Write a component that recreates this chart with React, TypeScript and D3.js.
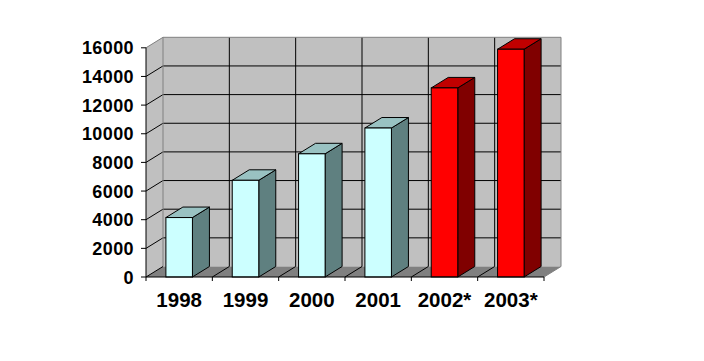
import React from "react";
import * as d3 from "d3";

const categories = ["1998", "1999", "2000", "2001", "2002*", "2003*"];
const values = [4150, 6750, 8600, 10400, 13200, 15900];
const forecast = [false, false, false, false, true, true];
const yTicks = [0, 2000, 4000, 6000, 8000, 10000, 12000, 14000, 16000];

const W = 704;
const H = 361;
const DX = 17;
const DY = -10.5;

export default function App() {
  const x0 = 146;
  const x1 = 544;
  const yBottom = 277;
  const yTop = 47.8;

  const slot = d3.scaleBand<string>().domain(categories).range([x0, x1]).paddingInner(0).paddingOuter(0);
  const bar = d3.scaleBand<string>().domain(categories).range([x0, x1]).paddingInner(0.6).paddingOuter(0.3);
  const y = d3.scaleLinear().domain([0, 16000]).range([yBottom, yTop]);

  const step = slot.step();
  const bw = bar.bandwidth();

  const cyan = { front: "#CCFFFF", top: "#99C2C2", side: "#5F8080" };
  const red = { front: "#FF0000", top: "#C00000", side: "#800000" };

  const pts = (arr: number[][]) => arr.map((p) => p.join(",")).join(" ");

  return (
    <svg width={W} height={H} style={{ position: "absolute", left: 0, top: 0, background: "#fff" }}>
      {/* left side wall */}
      <polygon
        points={pts([[x0, yTop], [x0 + DX, yTop + DY], [x0 + DX, yBottom + DY], [x0, yBottom]])}
        fill="#C0C0C0"
        stroke="none"
      />
      {/* back wall */}
      <rect x={x0 + DX} y={yTop + DY} width={x1 - x0} height={yBottom - yTop} fill="#C0C0C0" />
      {/* floor */}
      <polygon
        points={pts([[x0, yBottom], [x0 + DX, yBottom + DY], [x1 + DX, yBottom + DY], [x1, yBottom]])}
        fill="#808080"
      />
      {/* horizontal gridlines on back wall and side wall */}
      {yTicks.map((t) => (
        <g key={"g" + t}>
          {t > 0 && t < 16000 && (
            <line x1={x0 + DX} x2={x1 + DX} y1={y(t) + DY} y2={y(t) + DY} stroke="#000" strokeWidth={1} />
          )}
          {t > 0 && t < 16000 && (
            <line x1={x0} x2={x0 + DX} y1={y(t)} y2={y(t) + DY} stroke="#000" strokeWidth={1} />
          )}
        </g>
      ))}
      {/* vertical gridlines on back wall */}
      {categories.slice(1).map((c) => (
        <line
          key={"v" + c}
          x1={(slot(c) as number) + DX}
          x2={(slot(c) as number) + DX}
          y1={yTop + DY}
          y2={yBottom + DY}
          stroke="#000"
          strokeWidth={1}
        />
      ))}
      {/* floor dividers */}
      {categories.slice(1).map((c) => (
        <line
          key={"f" + c}
          x1={slot(c) as number}
          x2={(slot(c) as number) + DX}
          y1={yBottom}
          y2={yBottom + DY}
          stroke="#000"
          strokeWidth={1}
        />
      ))}
      {/* wall borders */}
      <polyline
        points={pts([[x0, yTop], [x0 + DX, yTop + DY], [x1 + DX, yTop + DY], [x1 + DX, yBottom + DY], [x1, yBottom]])}
        fill="none"
        stroke="#808080"
        strokeWidth={1}
      />
      <line x1={x0 + DX} x2={x0 + DX} y1={yTop + DY} y2={yBottom + DY} stroke="#808080" strokeWidth={1} />
      <line x1={x0} x2={x0 + DX} y1={yBottom} y2={yBottom + DY} stroke="#000" strokeWidth={1} />
      {/* bars */}
      {categories.map((c, i) => {
        const col = forecast[i] ? red : cyan;
        const bx = bar(c) as number;
        const by = y(values[i]);
        return (
          <g key={"b" + c} stroke="#000" strokeWidth={1} strokeLinejoin="miter">
            <polygon
              points={pts([[bx + bw, by], [bx + bw + DX, by + DY], [bx + bw + DX, yBottom + DY], [bx + bw, yBottom]])}
              fill={col.side}
            />
            <polygon
              points={pts([[bx, by], [bx + DX, by + DY], [bx + bw + DX, by + DY], [bx + bw, by]])}
              fill={col.top}
            />
            <rect x={bx} y={by} width={bw} height={yBottom - by} fill={col.front} />
          </g>
        );
      })}
      {/* axes */}
      <line x1={x0} x2={x0} y1={yTop} y2={yBottom} stroke="#000" strokeWidth={1} />
      <line x1={x0} x2={x1} y1={yBottom} y2={yBottom} stroke="#000" strokeWidth={1} />
      {yTicks.map((t) => (
        <g key={"t" + t}>
          <line x1={x0 - 5} x2={x0} y1={y(t)} y2={y(t)} stroke="#000" strokeWidth={1} />
          <text
            x={x0 - 12}
            y={y(t)}
            dy="0.37em"
            textAnchor="end"
            fontFamily="Liberation Sans, Arial, sans-serif"
            fontWeight="bold"
            fontSize={18}
            letterSpacing={0.4}
            fill="#000"
          >
            {t}
          </text>
        </g>
      ))}
      {categories.map((c) => (
        <line
          key={"ct" + c}
          x1={slot(c) as number}
          x2={slot(c) as number}
          y1={yBottom}
          y2={yBottom + 4}
          stroke="#000"
          strokeWidth={1}
        />
      ))}
      <line x1={x1} x2={x1} y1={yBottom} y2={yBottom + 4} stroke="#000" strokeWidth={1} />
      {categories.map((c) => (
        <text
          key={"cl" + c}
          x={(slot(c) as number) + step / 2}
          y={306.5}
          textAnchor="middle"
          fontFamily="Liberation Sans, Arial, sans-serif"
          fontWeight="bold"
          fontSize={20.5}
          fill="#000"
        >
          {c}
        </text>
      ))}
    </svg>
  );
}
